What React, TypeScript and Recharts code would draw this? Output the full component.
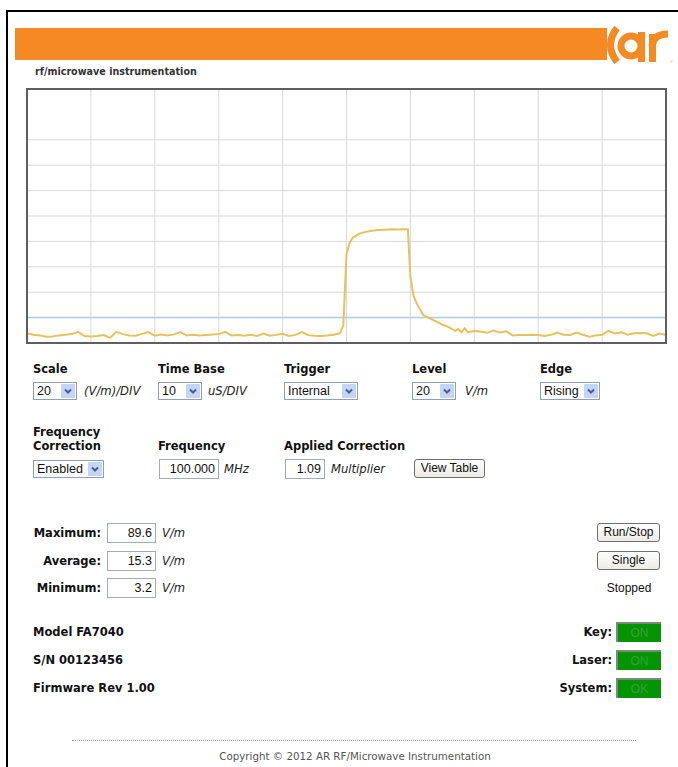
import React from "react";
import { LineChart, Line, XAxis, YAxis, CartesianGrid, ReferenceLine } from "recharts";

// time axis (microseconds) and measured field strength (V/m)
const timeUs = [
  0, 1, 2, 3, 4, 5, 6, 7, 8, 9, 10, 11, 12, 13, 14, 15, 16, 17, 18, 19,
  20, 21, 22, 23, 24, 25, 26, 27, 28, 29, 30, 31, 32, 33, 34, 35, 36, 37, 38, 39,
  40, 41, 42, 43, 44, 45, 46, 47, 48, 49, 49.5, 50, 50.5, 51, 52, 53, 54, 55, 56, 57,
  58, 59, 59.6, 60, 60.5, 61, 62, 63, 64, 65, 66, 67, 67.5, 68, 68.5, 69, 70, 71, 72, 73,
  74, 75, 76, 77, 78, 79, 80, 81, 82, 83, 84, 85, 86, 87, 88, 89, 90, 91, 92, 93,
  94, 95, 96, 97, 98, 99, 100,
];
const fieldVm = [
  7.5, 6.5, 6.0, 5.0, 5.2, 6.0, 6.5, 7.0, 8.8, 5.5, 5.2, 5.5, 6.3, 4.0, 8.8, 7.0, 6.0, 5.8, 7.2, 8.6,
  5.8, 6.6, 6.0, 6.8, 8.6, 6.0, 6.4, 6.0, 6.3, 6.6, 7.0, 8.8, 6.0, 6.3, 5.8, 6.4, 5.6, 7.4, 5.8, 6.4,
  7.2, 5.6, 6.4, 8.6, 6.2, 5.8, 5.6, 6.0, 6.5, 7.8, 14.0, 70.0, 79.0, 83.0, 86.0, 87.5, 88.3, 89.0, 89.2, 89.5,
  89.4, 89.6, 89.6, 52.0, 37.0, 31.0, 22.0, 19.5, 17.0, 14.5, 12.5, 9.5, 11.0, 8.5, 11.5, 8.5, 9.5, 9.0, 8.0, 9.8,
  8.3, 9.2, 6.0, 6.3, 6.3, 6.5, 6.3, 5.5, 6.5, 8.2, 6.5, 6.3, 8.2, 6.5, 5.0, 6.0, 6.5, 9.5, 7.5, 8.4,
  6.5, 7.6, 7.8, 7.6, 5.5, 7.4, 6.3,
];
const xTicks = [0, 10, 20, 30, 40, 50, 60, 70, 80, 90, 100];
const yTicks = [0, 20, 40, 60, 80, 100, 120, 140, 160, 180, 200];
const triggerLevel = 20;

const data = timeUs.map((t, i) => ({ t, v: fieldVm[i] }));

const BOLD = "'DejaVu Sans', Verdana, sans-serif";
const ARIAL = "'Liberation Sans', Arial, sans-serif";

const abs = (left: number, top: number, extra: React.CSSProperties = {}): React.CSSProperties => ({
  position: "absolute",
  left,
  top,
  ...extra,
});

function Label({ x, y, text, right }: { x: number; y: number; text: string; right?: boolean }) {
  if (right) {
    return (
      <div style={abs(x - 200, y - 7, { width: 200, textAlign: "right", font: `bold 11.5px ${BOLD}`, lineHeight: "14px", color: "#111", whiteSpace: "nowrap" })}>
        {text}
      </div>
    );
  }
  return (
    <div style={abs(x, y - 7, { font: `bold 11.5px ${BOLD}`, lineHeight: "14px", color: "#111", whiteSpace: "nowrap" })}>
      {text}
    </div>
  );
}

function Unit({ x, y, text }: { x: number; y: number; text: string }) {
  return (
    <div style={abs(x, y - 7, { font: `italic 11.6px ${BOLD}`, lineHeight: "14px", color: "#222", whiteSpace: "nowrap" })}>
      {text}
    </div>
  );
}

function Select({ x, y, w, text }: { x: number; y: number; w: number; text: string }) {
  return (
    <div
      style={abs(x, y, {
        width: w,
        height: 18,
        boxSizing: "border-box",
        border: "1px solid #8e9fb6",
        background: "#fff",
        font: `12.5px ${ARIAL}`,
        lineHeight: "16px",
        paddingLeft: 3,
        color: "#111",
      })}
    >
      {text}
      <div
        style={{
          position: "absolute",
          right: 1,
          top: 1,
          width: 14,
          height: 14,
          background: "#c5d5f7",
          borderRadius: 1,
        }}
      >
        <svg width={14} height={14} style={{ position: "absolute", left: 0, top: 0 }}>
          <polyline points="4,5.5 7,8.5 10,5.5" fill="none" stroke="#4a5f8a" strokeWidth={2} />
        </svg>
      </div>
    </div>
  );
}

function Input({ x, y, w, text }: { x: number; y: number; w: number; text: string }) {
  return (
    <div
      style={abs(x, y, {
        width: w,
        height: 20,
        boxSizing: "border-box",
        border: "1px solid #a3abb5",
        background: "#fff",
        font: `12.5px ${ARIAL}`,
        lineHeight: "18px",
        textAlign: "right",
        paddingRight: 3,
        color: "#111",
      })}
    >
      {text}
    </div>
  );
}

function Button({ x, y, w, text }: { x: number; y: number; w: number; text: string }) {
  return (
    <div
      style={abs(x, y, {
        width: w,
        height: 19,
        boxSizing: "border-box",
        border: "1px solid #6f6f6f",
        borderRadius: 3,
        background: "linear-gradient(#ffffff, #ecebe6)",
        font: `12px ${ARIAL}`,
        lineHeight: "17px",
        textAlign: "center",
        color: "#111",
      })}
    >
      {text}
    </div>
  );
}

function Status({ x, y, text }: { x: number; y: number; text: string }) {
  return (
    <div
      style={abs(x, y, {
        width: 45,
        height: 20,
        boxSizing: "border-box",
        borderTop: "2px solid #7a8a7a",
        borderLeft: "2px solid #7a8a7a",
        background: "#069406",
        font: `12px ${ARIAL}`,
        lineHeight: "18px",
        textAlign: "center",
        color: "#2fa52f",
      })}
    >
      {text}
    </div>
  );
}

export default function App() {
  return (
    <div style={{ position: "absolute", left: 0, top: 0, width: 678, height: 767, overflow: "hidden", background: "#fff" }}>
      {/* page frame */}
      <div style={abs(6, 10, { width: 800, height: 900, borderTop: "2px solid #000", borderLeft: "2px solid #000" })} />

      {/* banner */}
      <div style={abs(15, 28, { width: 592, height: 32, background: "#f58a24" })} />
      <svg width={72} height={42} style={abs(605, 24)}>
        <path d="M 12 4 Q -1 21 12 38" fill="none" stroke="#f58a24" strokeWidth={7} />
        <circle cx={26} cy={22} r={10} fill="none" stroke="#f58a24" strokeWidth={7} />
        <rect x={33} y={8} width={7} height={30} fill="#f58a24" />
        <rect x={44} y={10} width={7} height={28} fill="#f58a24" />
        <path d="M 47 22 Q 48 10 63 10" fill="none" stroke="#f58a24" strokeWidth={7} />
        <text x={65} y={39} fontSize={4} fill="#f58a24" fontFamily={ARIAL}>®</text>
      </svg>
      <div style={abs(35, 66, { font: `bold 9.6px ${BOLD}`, lineHeight: "12px", color: "#333", whiteSpace: "nowrap" })}>
        rf/microwave instrumentation
      </div>

      {/* scope chart */}
      <div style={abs(27, 89, { width: 639, height: 254, background: "#fff" })}>
        <LineChart width={639} height={254} data={data} margin={{ top: 0, right: 0, bottom: 0, left: 0 }}>
          <CartesianGrid stroke="#d9d9d9" strokeWidth={1} />
          <XAxis dataKey="t" type="number" domain={[0, 100]} ticks={xTicks} hide />
          <YAxis type="number" domain={[0, 200]} ticks={yTicks} hide />
          <ReferenceLine y={triggerLevel} stroke="#a8cfe8" strokeWidth={1.5} />
          <Line type="linear" dataKey="v" stroke="#e6c25e" strokeWidth={2} dot={false} isAnimationActive={false} />
        </LineChart>
      </div>
      <div style={abs(26, 88, { width: 641, height: 256, boxSizing: "border-box", border: "2px solid #5f5f5f", pointerEvents: "none" })} />

      {/* row 1 */}
      <Label x={33} y={369} text="Scale" />
      <Label x={158} y={369} text="Time Base" />
      <Label x={284} y={369} text="Trigger" />
      <Label x={412} y={369} text="Level" />
      <Label x={540} y={369} text="Edge" />
      <Select x={33} y={382} w={44} text="20" />
      <Unit x={84} y={391} text="(V/m)/DIV" />
      <Select x={158} y={382} w={44} text="10" />
      <Unit x={208} y={391} text="uS/DIV" />
      <Select x={284} y={382} w={74} text="Internal" />
      <Select x={412} y={382} w={44} text="20" />
      <Unit x={465} y={391} text="V/m" />
      <Select x={540} y={382} w={60} text="Rising" />

      {/* row 2 */}
      <Label x={33} y={432} text="Frequency" />
      <Label x={33} y={446} text="Correction" />
      <Label x={158} y={446} text="Frequency" />
      <Label x={284} y={446} text="Applied Correction" />
      <Select x={33} y={460} w={71} text="Enabled" />
      <Input x={159} y={459} w={60} text="100.000" />
      <Unit x={224} y={469} text="MHz" />
      <Input x={285} y={459} w={40} text="1.09" />
      <Unit x={331} y={469} text="Multiplier" />
      <Button x={414} y={459} w={71} text="View Table" />

      {/* stats */}
      <Label x={101} y={533} text="Maximum:" right />
      <Input x={107} y={523} w={49} text="89.6" />
      <Unit x={162} y={533} text="V/m" />
      <Label x={101} y={561} text="Average:" right />
      <Input x={107} y={551} w={49} text="15.3" />
      <Unit x={162} y={561} text="V/m" />
      <Label x={101} y={588} text="Minimum:" right />
      <Input x={107} y={578} w={49} text="3.2" />
      <Unit x={162} y={588} text="V/m" />

      <Button x={597} y={523} w={63} text="Run/Stop" />
      <Button x={597} y={551} w={63} text="Single" />
      <div style={abs(579, 581, { width: 100, textAlign: "center", font: `12px ${ARIAL}`, lineHeight: "14px", color: "#111" })}>Stopped</div>

      {/* device info */}
      <Label x={33} y={632} text="Model FA7040" />
      <Label x={33} y={660} text="S/N 00123456" />
      <Label x={33} y={688} text="Firmware Rev 1.00" />
      <Label x={612} y={632} text="Key:" right />
      <Status x={616} y={622} text="ON" />
      <Label x={612} y={660} text="Laser:" right />
      <Status x={616} y={650} text="ON" />
      <Label x={612} y={688} text="System:" right />
      <Status x={616} y={678} text="OK" />

      {/* footer */}
      <div style={abs(72, 740, { width: 564, height: 0, borderTop: "1px dotted #999" })} />
      <div style={abs(0, 749, { width: 710, textAlign: "center", font: `10.3px ${BOLD}`, lineHeight: "14px", color: "#555", whiteSpace: "nowrap" })}>
        Copyright © 2012 AR RF/Microwave Instrumentation
      </div>
    </div>
  );
}
